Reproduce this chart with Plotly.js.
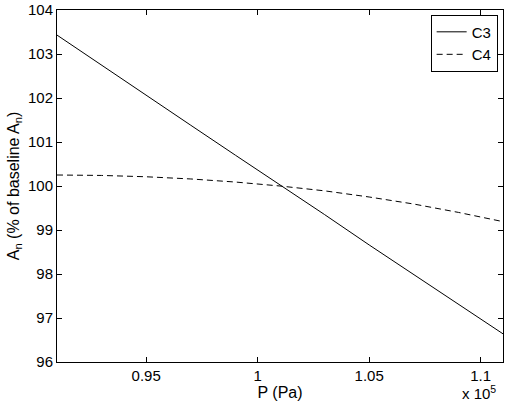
<!DOCTYPE html>
<html>
<head>
<meta charset="utf-8">
<script src="https://cdn.plot.ly/plotly-3.0.1.min.js"></script>
<style>html,body{margin:0;padding:0;background:#fff;}#chart{width:508px;height:406px;}</style>
</head>
<body>
<div id="chart"></div>
<script>
// Pressure (Pa)
const pressure = [91000, 93000, 95000, 97000, 99000, 101000, 103000, 105000, 107000, 109000, 111000];
// A_n as % of baseline
const c3Values = [103.43, 102.74, 102.06, 101.38, 100.70, 100.03, 99.35, 98.66, 97.98, 97.31, 96.64];
const c4Values = [100.25, 100.24, 100.21, 100.16, 100.09, 100.00, 99.89, 99.75, 99.59, 99.40, 99.19];
const xTickVals = [95000, 100000, 105000, 110000];
const xTickText = ["0.95", "1", "1.05", "1.1"];
const yTickVals = [96, 97, 98, 99, 100, 101, 102, 103, 104];

const family = '"Liberation Sans", Arial, sans-serif';
const tickFont = {family: family, size: 15, color: '#000'};
const titleFont = {family: family, size: 16, color: '#000'};

const traces = [
  {x: pressure, y: c3Values, name: 'C3', type: 'scatter', mode: 'lines',
   line: {color: '#000', width: 1}},
  {x: pressure, y: c4Values, name: 'C4', type: 'scatter', mode: 'lines',
   line: {color: '#000', width: 1, dash: '6px,4px'}}
];

const axisCommon = {
  showline: true, linecolor: '#000', linewidth: 1, mirror: 'ticks',
  ticks: 'inside', ticklen: 5, tickwidth: 1, tickcolor: '#000',
  showgrid: false, zeroline: false, tickfont: tickFont
};

const layout = {
  width: 508, height: 406,
  margin: {l: 57, r: 5, t: 10, b: 44},
  paper_bgcolor: '#fff', plot_bgcolor: '#fff',
  font: tickFont,
  showlegend: true,
  legend: {x: 0.988, xanchor: 'right', y: 0.987, yanchor: 'top',
           bordercolor: '#000', borderwidth: 1, bgcolor: '#fff',
           font: tickFont, tracegroupgap: 0},
  xaxis: Object.assign({}, axisCommon, {
    range: [91000, 111000], tickmode: 'array', tickvals: xTickVals, ticktext: xTickText,
    title: {text: 'P (Pa)', font: titleFont, standoff: 2}
  }),
  yaxis: Object.assign({}, axisCommon, {
    range: [96, 104], tickmode: 'array', tickvals: yTickVals,
    title: {text: 'A<sub>n</sub> (% of baseline A<sub>n</sub>)', font: titleFont, standoff: 4}
  }),
  annotations: [
    {xref: 'paper', yref: 'paper', x: 1, y: 0, xanchor: 'right', yanchor: 'bottom',
     xshift: -5, yshift: -42, showarrow: false, text: 'x 10<sup>5</sup>', font: tickFont}
  ]
};

Plotly.newPlot('chart', traces, layout, {displayModeBar: false, staticPlot: true});
</script>
</body>
</html>
